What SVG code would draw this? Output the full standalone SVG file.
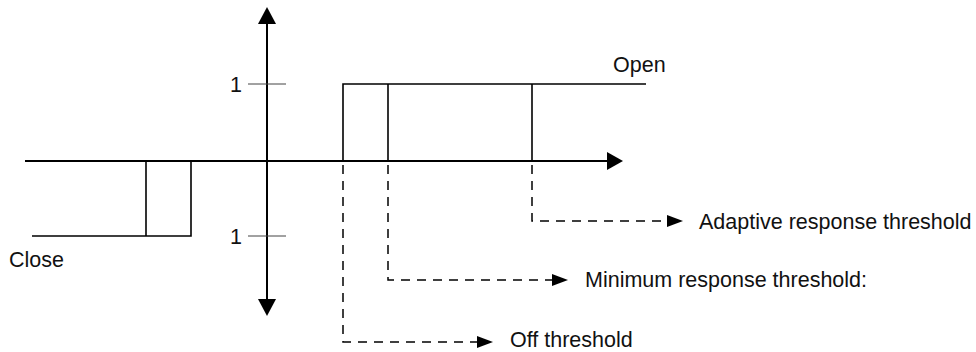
<svg xmlns="http://www.w3.org/2000/svg" width="976" height="352" viewBox="0 0 976 352">
<style>
.axis{stroke:#000;stroke-width:2;fill:none}
.sig{stroke:#000;stroke-width:1.6;fill:none}
.tick{stroke:#444;stroke-width:1;fill:none}
.dash{stroke:#000;stroke-width:1.5;fill:none;stroke-dasharray:9 7}
.head{fill:#000}
text{font-family:"Liberation Sans",Arial,sans-serif;font-size:21.5px;fill:#111}
</style>
<rect width="976" height="352" fill="#fff"/>
<g id="axes">
<line class="axis" x1="25" y1="161" x2="608" y2="161"/>
<polygon class="head" points="623,161 607,152 607,170"/>
<line class="axis" x1="267" y1="22" x2="267" y2="301"/>
<polygon class="head" points="267,7 258,24 276,24"/>
<polygon class="head" points="267,316 258,299 276,299"/>
<line class="tick" x1="248" y1="84" x2="286" y2="84"/>
<line class="tick" x1="248" y1="236" x2="286" y2="236"/>
<text x="230" y="92">1</text>
<text x="230" y="244">1</text>
</g>
<g id="close">
<polyline class="sig" points="32,236 191,236 191,161"/>
<line class="sig" x1="146" y1="161" x2="146" y2="236"/>
<text x="9" y="267">Close</text>
</g>
<g id="open">
<polyline class="sig" points="343,161 343,84 646,84"/>
<line class="sig" x1="388" y1="84" x2="388" y2="161"/>
<line class="sig" x1="532" y1="84" x2="532" y2="161"/>
<text x="613" y="72">Open</text>
</g>
<g id="connectors">
<polyline class="dash" points="343,165 343,342 478,342"/>
<polygon class="head" points="493,342 477,336 477,348"/>
<polyline class="dash" points="388,165 388,280 553,280"/>
<polygon class="head" points="568,280 552,274 552,286"/>
<polyline class="dash" points="532,165 532,221 667,221"/>
<polygon class="head" points="683,221 667,215 667,227"/>
</g>
<g id="labels">
<text x="510" y="347">Off threshold</text>
<text x="585" y="287">Minimum response threshold:</text>
<text x="699" y="229">Adaptive response threshold</text>
</g>
</svg>
